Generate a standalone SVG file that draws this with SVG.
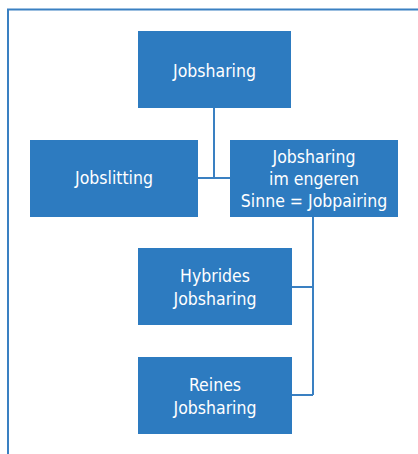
<svg xmlns="http://www.w3.org/2000/svg" width="418" height="454" viewBox="0 0 418 454">
<style>
.box{fill:#2d7bc0}
.t{font-family:"DejaVu Sans Condensed","Liberation Sans",Arial,sans-serif;font-stretch:condensed;font-size:17.5px;fill:#ffffff;text-anchor:middle}
.c{stroke:#3a80c2;stroke-width:2;fill:none}
.frame{stroke:#3a80c2;stroke-width:2;fill:none}
</style>
<rect width="418" height="454" fill="#ffffff"/>
<path class="frame" d="M8,455 V9.5 H419"/>
<g id="connectors">
<path class="c" d="M214,108 V178 M198,178 H230"/>
<path class="c" d="M313,217 V395 M292,287 H313 M292,395 H313"/>
</g>
<g id="jobsharing">
<rect class="box" x="138" y="31" width="153" height="77"/>
<text class="t" x="214.5" y="76.5">Jobsharing</text>
</g>
<g id="jobslitting">
<rect class="box" x="30" y="140" width="168" height="77"/>
<text class="t" x="114" y="184">Jobslitting</text>
</g>
<g id="jobpairing">
<rect class="box" x="230" y="140" width="168" height="77"/>
<text class="t" x="314" y="163">Jobsharing</text>
<text class="t" x="314" y="185">im engeren</text>
<text class="t" x="314" y="207">Sinne = Jobpairing</text>
</g>
<g id="hybrides">
<rect class="box" x="138" y="248" width="154" height="77"/>
<text class="t" x="215" y="282">Hybrides</text>
<text class="t" x="215" y="305">Jobsharing</text>
</g>
<g id="reines">
<rect class="box" x="138" y="357" width="154" height="77"/>
<text class="t" x="215" y="391">Reines</text>
<text class="t" x="215" y="414">Jobsharing</text>
</g>
</svg>
